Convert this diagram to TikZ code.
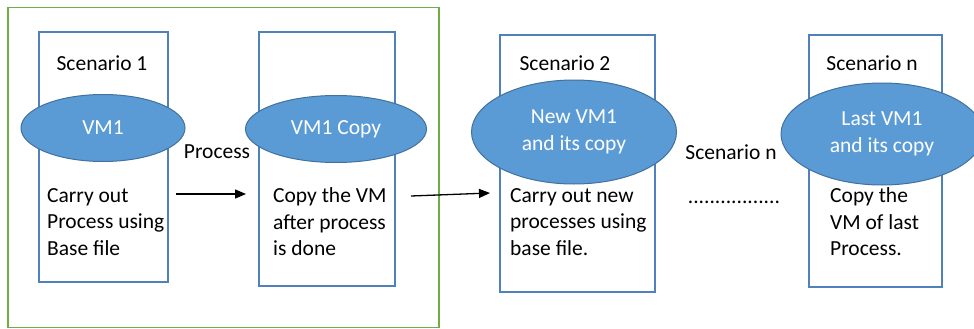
\documentclass[tikz,border=0pt]{standalone}
\usepackage{fontspec}
\setmainfont{Carlito}
\usetikzlibrary{positioning, shapes.geometric, arrows.meta}

\definecolor{boxblue}{HTML}{4F81BD}
\definecolor{ovalblue}{HTML}{5B9BD5}
\definecolor{ovaledge}{HTML}{41719C}
\definecolor{framegreen}{HTML}{70AD47}

\begin{document}
\begin{tikzpicture}[x=1pt, y=-1pt,
    font=\fontsize{21.5}{26.5}\selectfont,
    scenbox/.style={draw=boxblue, line width=1.2pt},
    vmoval/.style={ellipse, fill=ovalblue, draw=ovaledge, line width=1pt,
        text=white, align=center, inner sep=0pt},
    bodytext/.style={anchor=west, align=left, inner sep=0pt}]

    \useasboundingbox (0,0) rectangle (974,329);
    \fill[white] (0,0) rectangle (974,329);

    % Green frame round the first scenario
    \node[draw=framegreen, line width=1.5pt, minimum width=431, minimum height=320] (group1) at (223.5,167.5) {};

    % Scenario boxes
    \node[scenbox, minimum width=129, minimum height=250] (box1) at (103.5,157) {};
    \node[scenbox, minimum width=136, minimum height=254] (box2) at (327,159) {};
    \node[scenbox, minimum width=155, minimum height=257] (box3) at (577.5,163.5) {};
    \node[scenbox, minimum width=133, minimum height=252] (box4) at (875.5,161) {};

    \node (title1) at (102,63) {Scenario 1};
    \node (title2) at (565,63) {Scenario 2};
    \node (titlen) at (872,63) {Scenario n};

    % VM ovals
    \node[vmoval, minimum width=164, minimum height=67] (vm1) at (103,128) {VM1};
    \node[vmoval, minimum width=181, minimum height=67] (vm1copy) at (336,129) {VM1 Copy};
    \node[vmoval, minimum width=205, minimum height=104] (vmnew) at (574,132) {New VM1\\and its copy};
    \node[vmoval, minimum width=202, minimum height=102] (vmlast) at (882,134) {Last VM1\\and its copy};

    % Box texts
    \node[bodytext] (txt1) at (47,222) {Carry out\\Process using\\Base file};
    \node[bodytext] (txt2) at (273,222) {Copy the VM\\after process\\is done};
    \node[bodytext] (txt3) at (510,222) {Carry out new\\processes using\\base file.};
    \node[bodytext] (txt4) at (830,222) {Copy the\\VM of last\\Process.};

    % Labels between the boxes
    \node (process) at (217,152) {Process};
    \node (scenmid) at (731,152) {Scenario n};
    \node[anchor=base] (dots) at (734,203) {.................};

    % Arrows
    \coordinate (a1s) at (176,194);
    \coordinate (a1e) at (246,194);
    \coordinate (a2s) at (411,196);
    \coordinate (a2e) at (490,193);
    \draw[line width=1.3pt, -{Triangle[length=11pt, width=9pt]}] (a1s) -- (a1e);
    \draw[line width=1.3pt, -{Triangle[length=11pt, width=9pt]}] (a2s) -- (a2e);

\end{tikzpicture}
\end{document}
